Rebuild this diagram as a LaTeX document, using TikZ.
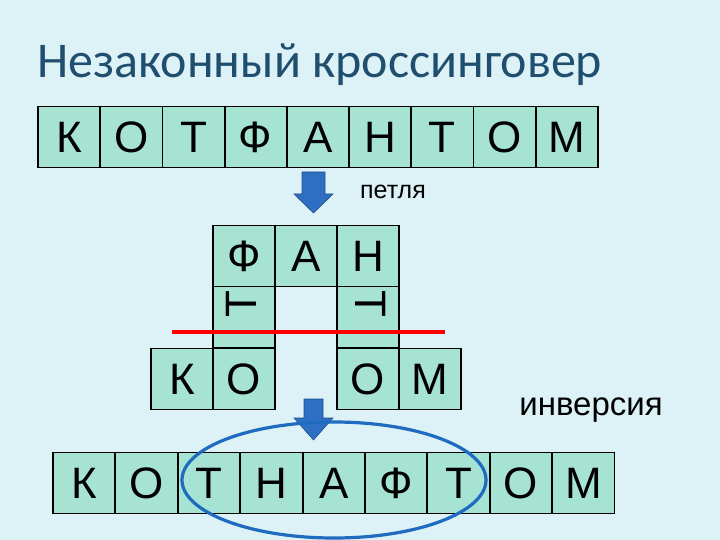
\documentclass[tikz,border=0pt]{standalone}
\usepackage{fontspec}
\setmainfont{Liberation Sans}
\newfontfamily\titlefont{Carlito}
\definecolor{bg}{HTML}{DDF2F7}
\definecolor{cellfill}{HTML}{A6E3D3}
\definecolor{titlec}{HTML}{1F4E6E}
\definecolor{arrowc}{HTML}{2E6FC4}
\definecolor{ellc}{HTML}{1E6BC0}
\begin{document}
\begin{tikzpicture}[x=1pt,y=-1pt,
  cell/.style={draw=black,line width=1.6pt,fill=cellfill,minimum width=62pt,minimum height=61pt,inner sep=0pt,font=\fontsize{44}{44}\selectfont},
  downarrow/.style={fill=arrowc,draw=arrowc!70!black,line width=0.6pt},
  lbl/.style={inner sep=0pt}]
\fill[bg] (0,0) rectangle (720,540);
\useasboundingbox (0,0) rectangle (720,540);
\node[anchor=base west,text=titlec,font=\titlefont\fontsize{50}{50}\selectfont,inner sep=0pt] (title) at (37,78) {Незаконный кроссинговер};
% top row
\foreach \t [count=\i] in {К,О,Т,Ф,А,Н,Т,О,М}
  \node[cell] (a\i) at ({38+62.2*(\i-0.5)},137) {\t};
% arrow 1
\filldraw[downarrow] (302,172) -- (325,172) -- (325,194) -- (333,194) -- (313.5,213) -- (294,194) -- (302,194) -- cycle;
\node[lbl,anchor=center,font=\fontsize{25}{25}\selectfont] (petlya) at (393,192) {петля};
% loop
\node[cell] (f) at (244,256) {Ф};
\node[cell] (ma) at (306,256) {А};
\node[cell] (mn) at (368,256) {Н};
\node[cell] (tl) at (244,317) {};
\node[cell] (tr) at (368,317) {};
\node[font=\fontsize{44}{44}\selectfont,rotate=90,inner sep=0pt] (tlt) at (241,304) {Т};
\node[font=\fontsize{44}{44}\selectfont,rotate=-90,inner sep=0pt] (trt) at (371,304) {Т};
\node[cell] (k2) at (182,379) {К};
\node[cell] (o2) at (244,379) {О};
\node[cell] (o3) at (368,379) {О};
\node[cell] (m3) at (430,379) {М};
\coordinate (rl) at (172,332);
\coordinate (rr) at (445,332);
\draw[red,line width=3.2pt] (rl) -- (rr);
\node[lbl,anchor=center,font=\fontsize{33}{33}\selectfont] (inv) at (591,410) {инверсия};
% arrow 2
\filldraw[downarrow] (304,399) -- (323,399) -- (323,418) -- (333,418) -- (313.5,440) -- (294,418) -- (304,418) -- cycle;
% bottom row
\foreach \t [count=\i] in {К,О,Т,Н,А,Ф,Т,О,М}
  \node[cell] (b\i) at ({53+62.4*(\i-0.5)},483) {\t};
\draw[ellc,line width=3.2pt] (334,480) ellipse [x radius=152,y radius=58];
\end{tikzpicture}
\end{document}
